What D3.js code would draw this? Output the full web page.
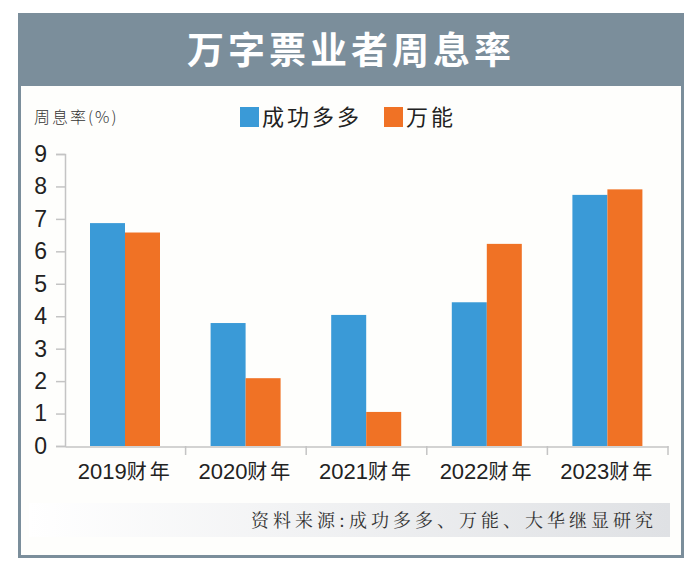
<!DOCTYPE html>
<html><head><meta charset="utf-8">
<script src="https://cdn.jsdelivr.net/npm/d3@7"></script>
<style>
body{margin:0;background:#ffffff;}
svg{display:block;}
</style></head>
<body>
<svg id="c" width="690" height="572"></svg>
<script>
const title = "万字票业者周息率";
const yLabel = "周息率(%)";
const categories = ["2019财年","2020财年","2021财年","2022财年","2023财年"];
const seriesNames = ["成功多多","万能"];
const seriesA = [6.87, 3.79, 4.04, 4.43, 7.74];
const seriesB = [6.58, 2.09, 1.05, 6.23, 7.91];
const yTicks = [0,1,2,3,4,5,6,7,8,9];
const source = "资料来源:成功多多、万能、大华继显研究";
const colors = ["#3a9ad7","#f07225"];

const svg = d3.select("#c");
const frame = "#7b8e9b";
const cjk = "'Noto Sans CJK SC', sans-serif";

// background panel
svg.append("rect").attr("x",19.5).attr("y",14.5).attr("width",663).attr("height",542)
  .attr("fill","#fefefc").attr("stroke",frame).attr("stroke-width",3);
svg.append("rect").attr("x",18).attr("y",13).attr("width",666).attr("height",73).attr("fill",frame);
svg.append("text").attr("x",351).attr("y",64).attr("text-anchor","middle")
  .attr("fill","#ffffff").attr("font-family",cjk).attr("font-weight",700)
  .attr("font-size",37).attr("letter-spacing",4).text(title);

// y label
svg.append("text").attr("x",34).attr("y",123).attr("fill","#333")
  .attr("font-family",cjk).attr("font-size",16).attr("font-weight",300)
  .attr("letter-spacing",2).text(yLabel);

// legend
const leg = [{x:240,t:seriesNames[0],c:colors[0]},{x:384,t:seriesNames[1],c:colors[1]}];
leg.forEach(d=>{
  svg.append("rect").attr("x",d.x).attr("y",107).attr("width",19).attr("height",20).attr("fill",d.c);
  svg.append("text").attr("x",d.x+22).attr("y",125).attr("fill","#222")
    .attr("font-family",cjk).attr("font-size",22).attr("letter-spacing",3).text(d.t);
});

// scales
const x0 = d3.scaleBand().domain(categories).range([65,668]).paddingInner(0).paddingOuter(0);
const x1 = d3.scaleBand().domain([0,1]).range([25,95]);
const y = d3.scaleLinear().domain([0,9]).range([446,154]);

const g = svg.append("g");
// bars
categories.forEach((c,i)=>{
  [seriesA[i],seriesB[i]].forEach((v,k)=>{
    g.append("rect").attr("x",x0(c)+x1(k)).attr("y",y(v))
      .attr("width",x1.bandwidth()).attr("height",y(0)-y(v)).attr("fill",colors[k]);
  });
});

// y axis
const yAxis = svg.append("g").attr("transform","translate(65,0)")
  .call(d3.axisLeft(y).tickValues(yTicks).tickSize(9).tickPadding(9).tickFormat(d3.format("d")));
yAxis.select(".domain").attr("stroke","#c4c4c4").attr("stroke-width",1.5);
yAxis.selectAll(".tick line").attr("stroke","#c4c4c4").attr("stroke-width",1.5);
yAxis.selectAll(".tick text").attr("font-family","'Liberation Sans', Arial, sans-serif")
  .attr("font-size",23).attr("fill","#222");

// x axis
const xAxis = svg.append("g").attr("transform","translate(0,446.5)")
  .call(d3.axisBottom(x0).tickSize(0).tickPadding(18));
xAxis.select(".domain").attr("stroke","#c4c4c4").attr("stroke-width",1.5);
xAxis.selectAll(".tick text").attr("font-family",cjk).attr("font-size",20).attr("fill","#222")
  .attr("letter-spacing",0).text(null)
  .each(function(d){
    const t = d3.select(this);
    const m = d.match(/^(\d+)(.*)$/);
    t.append("tspan").attr("font-family","'Liberation Sans Narrow','Liberation Sans',sans-serif").attr("font-size",22).text(m[1]);
    t.append("tspan").attr("letter-spacing",3).text(m[2]);
  });
// category separators
const seps = categories.slice(1).map(c=>x0(c)).concat([x0.range()[1]]);
svg.selectAll("line.sep").data(seps).enter().append("line")
  .attr("x1",d=>d).attr("x2",d=>d).attr("y1",446).attr("y2",455)
  .attr("stroke","#c4c4c4").attr("stroke-width",1.5);

// source band
const grad = svg.append("defs").append("linearGradient").attr("id","sg");
grad.append("stop").attr("offset","0%").attr("stop-color","#ffffff");
grad.append("stop").attr("offset","100%").attr("stop-color","#dfe1e4");
svg.append("rect").attr("x",29).attr("y",503).attr("width",641).attr("height",34).attr("fill","url(#sg)");
svg.append("text").attr("x",657).attr("y",527).attr("text-anchor","end").attr("fill","#333")
  .attr("font-family","'Noto Serif CJK SC','Noto Sans CJK SC',serif").attr("font-size",18)
  .attr("letter-spacing",4).text(source);
</script>
</body></html>
